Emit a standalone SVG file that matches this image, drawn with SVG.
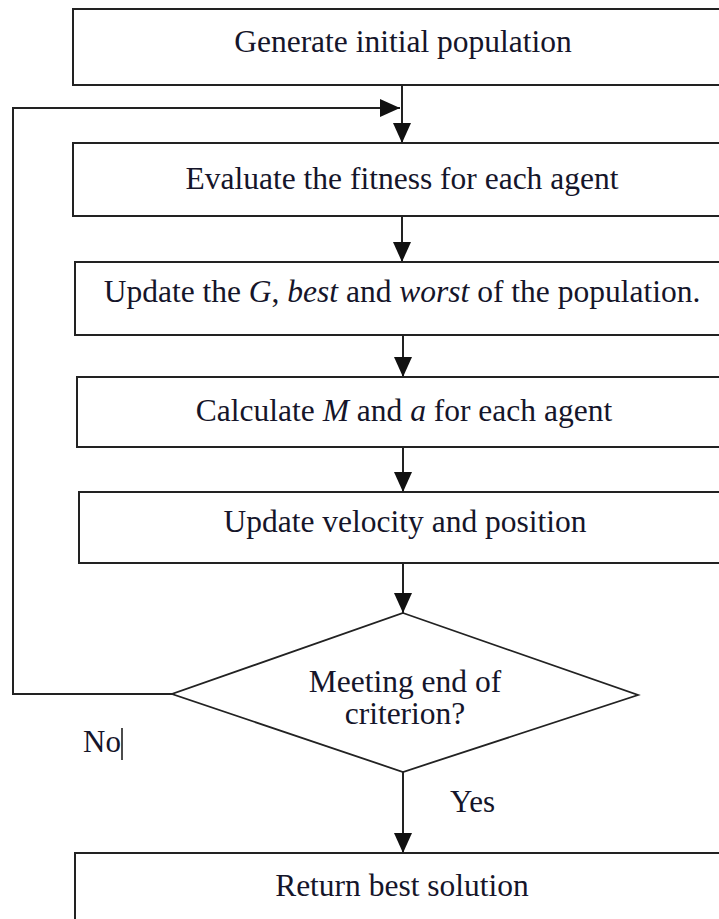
<svg xmlns="http://www.w3.org/2000/svg" width="719" height="919" viewBox="0 0 719 919">
<style>
.box{fill:#fff;stroke:#222;stroke-width:2}
.dia{fill:#fff;stroke:#222;stroke-width:1.8}
.t{font-family:"Liberation Serif","Times New Roman",serif;font-size:31.5px;fill:#15152a;text-anchor:middle}
.l{font-family:"Liberation Serif","Times New Roman",serif;font-size:31px;fill:#15152a}
.c{fill:none;stroke:#222;stroke-width:2}
</style>
<defs>
<marker id="ah" viewBox="0 0 20 18" refX="20" refY="9" markerWidth="20" markerHeight="18" markerUnits="userSpaceOnUse" orient="auto">
<path d="M0,0 L20,9 L0,18 Z" fill="#111"/>
</marker>
</defs>
<rect width="719" height="919" fill="#fff"/>
<g id="connectors">
<line class="c" x1="402" y1="85" x2="402" y2="143" marker-end="url(#ah)"/>
<polyline class="c" points="172,694 13,694 13,108 400,108" marker-end="url(#ah)"/>
<line class="c" x1="402" y1="216" x2="402" y2="262" marker-end="url(#ah)"/>
<line class="c" x1="403" y1="335" x2="403" y2="377" marker-end="url(#ah)"/>
<line class="c" x1="403" y1="447" x2="403" y2="492" marker-end="url(#ah)"/>
<line class="c" x1="403" y1="563" x2="403" y2="613" marker-end="url(#ah)"/>
<line class="c" x1="403" y1="772" x2="403" y2="853" marker-end="url(#ah)"/>
<line x1="122" y1="728" x2="122" y2="760" stroke="#111" stroke-width="1.5"/>
<text class="l" x="83" y="752">No</text>
<text class="l" x="450" y="812">Yes</text>
</g>
<g id="n1"><rect class="box" x="73" y="9" width="662" height="76"/><text class="t" x="403" y="52">Generate initial population</text></g>
<g id="n2"><rect class="box" x="73" y="143" width="662" height="73"/><text class="t" x="402" y="189">Evaluate the fitness for each agent</text></g>
<g id="n3"><rect class="box" x="75" y="262" width="662" height="73"/><text class="t" x="402" y="302">Update the <tspan font-style="italic">G</tspan>, <tspan font-style="italic">best</tspan> and <tspan font-style="italic">worst</tspan> of the population.</text></g>
<g id="n4"><rect class="box" x="77" y="377" width="662" height="70"/><text class="t" x="404" y="421">Calculate <tspan font-style="italic">M</tspan> and <tspan font-style="italic">a</tspan> for each agent</text></g>
<g id="n5"><rect class="box" x="79" y="492" width="662" height="71"/><text class="t" x="405" y="532">Update velocity and position</text></g>
<g id="n6"><polygon class="dia" points="403,613 638,695 403,772 172,694"/><text class="t" x="405" y="692">Meeting end of</text><text class="t" x="405" y="724">criterion?</text></g>
<g id="n7"><rect class="box" x="75" y="853" width="662" height="80"/><text class="t" x="402" y="896">Return best solution</text></g>
</svg>
